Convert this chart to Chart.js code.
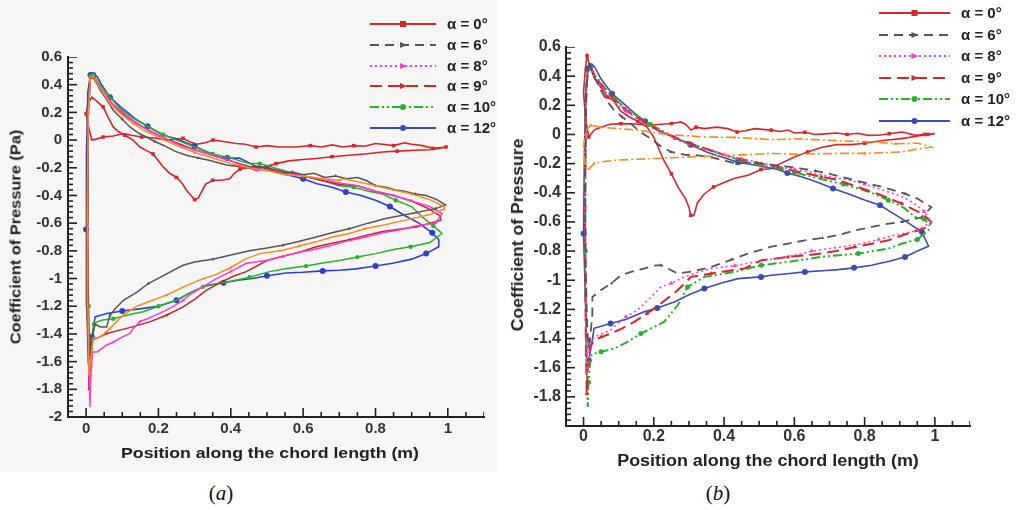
<!DOCTYPE html>
<html>
<head>
<meta charset="utf-8">
<script src="https://cdn.jsdelivr.net/npm/chart.js@4.4.1/dist/chart.umd.min.js"></script>
<style>
body{margin:0;width:1019px;height:510px;position:relative;overflow:hidden;background:#fff;font-family:"Liberation Sans",Arial,sans-serif}
.abs{position:absolute}
.ttl{position:absolute;font-weight:bold;color:#222;white-space:nowrap}
.cap{position:absolute;font-family:"Liberation Serif","Times New Roman",serif;font-size:21px;color:#111;transform:translate(-50%,-50%)}
.leg{position:absolute;font-weight:bold;color:#222;white-space:nowrap}
</style>
</head>
<body>
<div class="abs" style="left:0;top:0;width:497px;height:472px;background:#f6f6f6"></div>
<canvas id="chartA" class="abs" width="500" height="470" style="left:0;top:0"></canvas>
<canvas id="chartB" class="abs" width="519" height="470" style="left:500px;top:0"></canvas>
<div id="legA"></div>
<div id="legB"></div>
<div class="ttl" style="left:15px;top:237px;font-size:15px;transform:translate(-50%,-50%) rotate(-90deg) scaleX(1.09)">Coefficient of Pressure (Pa)</div>
<div class="ttl" style="left:518px;top:235px;font-size:16px;transform:translate(-50%,-50%) rotate(-90deg) scaleX(1.1)">Coefficient of Pressure</div>
<div class="ttl" style="left:270px;top:452px;font-size:15px;transform:translate(-50%,-50%) scaleX(1.18)">Position along the chord length (m)</div>
<div class="ttl" style="left:768px;top:461px;font-size:16px;transform:translate(-50%,-50%) scaleX(1.12)">Position along the chord length (m)</div>
<div class="cap" style="left:221px;top:493px">(<i>a</i>)</div>
<div class="cap" style="left:718px;top:493px">(<i>b</i>)</div>
<script>
// tick labels
var xTicks = [0, 0.2, 0.4, 0.6, 0.8, 1];
var yTicks = [-2, -1.8, -1.6, -1.4, -1.2, -1, -0.8, -0.6, -0.4, -0.2, 0, 0.2, 0.4, 0.6];
var legendLabels = ['α = 0°', 'α = 6°', 'α = 8°', 'α = 9°', 'α = 10°', 'α = 12°'];

// panel (a): [x, Cp] along each loop
var a_alpha0 = [[0.995,-0.05],[0.96,-0.06],[0.93,-0.04],[0.9,-0.03],[0.88,-0.02],[0.85,-0.04],[0.82,-0.03],[0.8,-0.025],[0.77,-0.045],[0.74,-0.04],[0.71,-0.05],[0.68,-0.035],[0.65,-0.05],[0.62,-0.04],[0.58,-0.05],[0.534,-0.05],[0.5,-0.04],[0.47,-0.05],[0.44,-0.03],[0.415,-0.025],[0.38,-0.01],[0.351,0.0],[0.33,-0.02],[0.305,-0.03],[0.285,-0.01],[0.268,0.013],[0.245,0.005],[0.222,0.0],[0.19,0.015],[0.154,0.022],[0.125,0.035],[0.103,0.047],[0.075,0.03],[0.047,0.022],[0.025,0.005],[0.016,0.0],[0.008,0.08],[0.0,0.19],[0.006,0.27],[0.016,0.31],[0.03,0.28],[0.047,0.24],[0.06,0.17],[0.075,0.095],[0.09,0.06],[0.107,0.035],[0.13,0.0],[0.149,-0.05],[0.17,-0.08],[0.185,-0.1],[0.2,-0.15],[0.213,-0.194],[0.231,-0.24],[0.25,-0.27],[0.265,-0.31],[0.277,-0.36],[0.29,-0.4],[0.3,-0.43],[0.31,-0.42],[0.32,-0.37],[0.33,-0.32],[0.35,-0.29],[0.375,-0.29],[0.397,-0.28],[0.41,-0.24],[0.425,-0.21],[0.443,-0.2],[0.47,-0.21],[0.5,-0.19],[0.525,-0.17],[0.56,-0.15],[0.6,-0.14],[0.636,-0.133],[0.68,-0.12],[0.727,-0.11],[0.77,-0.1],[0.82,-0.086],[0.86,-0.08],[0.91,-0.074],[0.95,-0.07],[0.975,-0.06],[0.995,-0.05]];
var a_alpha6 = [[0.012,0.46],[0.02,0.46],[0.039,0.36],[0.06,0.28],[0.075,0.215],[0.1,0.15],[0.121,0.095],[0.145,0.05],[0.167,0.022],[0.19,-0.01],[0.213,-0.037],[0.245,-0.08],[0.277,-0.11],[0.31,-0.13],[0.34,-0.146],[0.388,-0.18],[0.42,-0.19],[0.45,-0.2],[0.48,-0.19],[0.51,-0.22],[0.54,-0.24],[0.57,-0.23],[0.6,-0.25],[0.63,-0.24],[0.66,-0.27],[0.69,-0.26],[0.72,-0.28],[0.75,-0.27],[0.773,-0.29],[0.8,-0.33],[0.83,-0.34],[0.856,-0.36],[0.88,-0.37],[0.91,-0.39],[0.94,-0.4],[0.97,-0.43],[0.994,-0.47],[0.966,-0.495],[0.9,-0.53],[0.828,-0.567],[0.78,-0.6],[0.727,-0.64],[0.68,-0.67],[0.636,-0.7],[0.59,-0.73],[0.544,-0.76],[0.5,-0.78],[0.452,-0.8],[0.4,-0.83],[0.35,-0.86],[0.3,-0.88],[0.268,-0.904],[0.22,-0.97],[0.172,-1.036],[0.14,-1.1],[0.103,-1.157],[0.08,-1.22],[0.066,-1.265],[0.057,-1.35],[0.04,-1.35],[0.025,-1.33],[0.015,-1.45],[0.009,-1.62],[0.006,-1.3],[0.004,-0.6],[0.005,0.2],[0.012,0.46]];
var a_extra = [[0.012,0.46],[0.02,0.46],[0.04,0.37],[0.07,0.25],[0.1,0.18],[0.13,0.12],[0.16,0.07],[0.2,0.02],[0.25,-0.04],[0.3,-0.09],[0.35,-0.13],[0.4,-0.17],[0.45,-0.2],[0.5,-0.22],[0.55,-0.25],[0.6,-0.26],[0.65,-0.28],[0.7,-0.29],[0.71,-0.28],[0.75,-0.3],[0.8,-0.33],[0.85,-0.36],[0.9,-0.39],[0.95,-0.43],[0.99,-0.48],[0.99,-0.5],[0.948,-0.54],[0.88,-0.58],[0.82,-0.615],[0.77,-0.64],[0.727,-0.675],[0.68,-0.7],[0.636,-0.735],[0.59,-0.765],[0.544,-0.795],[0.48,-0.82],[0.44,-0.86],[0.4,-0.92],[0.36,-0.97],[0.314,-1.01],[0.27,-1.06],[0.222,-1.12],[0.18,-1.16],[0.14,-1.2],[0.1,-1.27],[0.066,-1.36],[0.045,-1.41],[0.03,-1.43],[0.02,-1.43],[0.012,-1.6],[0.008,-1.7],[0.005,-1.2],[0.004,-0.4],[0.006,0.2],[0.012,0.46]];
var a_alpha8 = [[0.012,0.46],[0.02,0.46],[0.04,0.38],[0.07,0.27],[0.1,0.2],[0.14,0.12],[0.18,0.06],[0.22,0.01],[0.26,-0.04],[0.3,-0.07],[0.35,-0.11],[0.4,-0.15],[0.45,-0.2],[0.47,-0.22],[0.5,-0.21],[0.55,-0.24],[0.6,-0.26],[0.65,-0.28],[0.7,-0.31],[0.75,-0.33],[0.8,-0.37],[0.85,-0.4],[0.9,-0.44],[0.95,-0.48],[0.984,-0.53],[0.966,-0.6],[0.91,-0.62],[0.865,-0.65],[0.82,-0.67],[0.773,-0.7],[0.72,-0.73],[0.68,-0.76],[0.63,-0.79],[0.59,-0.81],[0.54,-0.84],[0.498,-0.87],[0.443,-0.89],[0.4,-0.95],[0.36,-1.0],[0.323,-1.06],[0.29,-1.11],[0.268,-1.157],[0.235,-1.21],[0.204,-1.25],[0.17,-1.29],[0.149,-1.31],[0.13,-1.36],[0.121,-1.397],[0.094,-1.43],[0.075,-1.46],[0.057,-1.48],[0.03,-1.53],[0.018,-1.53],[0.013,-1.7],[0.011,-1.93],[0.007,-1.4],[0.004,-0.6],[0.006,0.2],[0.012,0.46]];
var a_alpha9 = [[0.012,0.45],[0.02,0.45],[0.04,0.37],[0.07,0.27],[0.1,0.19],[0.14,0.12],[0.18,0.06],[0.22,0.01],[0.26,-0.03],[0.3,-0.07],[0.35,-0.11],[0.4,-0.15],[0.45,-0.19],[0.5,-0.2],[0.55,-0.23],[0.6,-0.26],[0.65,-0.29],[0.7,-0.32],[0.75,-0.33],[0.8,-0.37],[0.85,-0.4],[0.9,-0.44],[0.95,-0.5],[0.98,-0.55],[0.98,-0.58],[0.911,-0.627],[0.86,-0.645],[0.82,-0.66],[0.77,-0.69],[0.727,-0.72],[0.68,-0.745],[0.636,-0.77],[0.59,-0.81],[0.544,-0.84],[0.5,-0.87],[0.443,-0.95],[0.41,-0.98],[0.37,-1.03],[0.332,-1.085],[0.3,-1.15],[0.268,-1.205],[0.222,-1.265],[0.176,-1.313],[0.14,-1.34],[0.112,-1.36],[0.057,-1.397],[0.03,-1.43],[0.018,-1.44],[0.012,-1.6],[0.008,-1.8],[0.005,-1.3],[0.003,-0.6],[0.006,0.2],[0.012,0.45]];
var a_alpha10 = [[0.012,0.46],[0.02,0.47],[0.04,0.39],[0.066,0.31],[0.1,0.21],[0.135,0.15],[0.17,0.1],[0.213,0.04],[0.25,0.0],[0.3,-0.05],[0.35,-0.1],[0.4,-0.13],[0.45,-0.17],[0.48,-0.17],[0.52,-0.2],[0.56,-0.23],[0.6,-0.26],[0.65,-0.29],[0.7,-0.33],[0.74,-0.34],[0.78,-0.37],[0.82,-0.39],[0.856,-0.435],[0.9,-0.48],[0.929,-0.555],[0.96,-0.62],[0.984,-0.675],[0.95,-0.74],[0.897,-0.77],[0.85,-0.79],[0.8,-0.82],[0.75,-0.845],[0.704,-0.868],[0.65,-0.89],[0.608,-0.91],[0.55,-0.93],[0.507,-0.95],[0.452,-0.99],[0.4,-1.02],[0.36,-1.04],[0.323,-1.06],[0.29,-1.1],[0.25,-1.157],[0.2,-1.2],[0.158,-1.24],[0.12,-1.26],[0.075,-1.29],[0.045,-1.3],[0.03,-1.313],[0.022,-1.33],[0.016,-1.45],[0.011,-1.674],[0.007,-1.2],[0.004,-0.7],[0.006,0.2],[0.012,0.46]];
var a_alpha12 = [[0.012,0.47],[0.02,0.47],[0.03,0.46],[0.045,0.39],[0.066,0.31],[0.1,0.23],[0.135,0.155],[0.17,0.1],[0.213,0.035],[0.25,0.01],[0.3,-0.045],[0.33,-0.08],[0.364,-0.122],[0.39,-0.13],[0.424,-0.13],[0.47,-0.19],[0.5,-0.2],[0.534,-0.24],[0.57,-0.26],[0.6,-0.28],[0.636,-0.314],[0.68,-0.34],[0.718,-0.375],[0.76,-0.4],[0.8,-0.435],[0.84,-0.48],[0.879,-0.543],[0.92,-0.6],[0.957,-0.67],[0.975,-0.72],[0.975,-0.77],[0.94,-0.82],[0.9,-0.86],[0.847,-0.89],[0.8,-0.91],[0.746,-0.93],[0.7,-0.94],[0.654,-0.945],[0.6,-0.955],[0.553,-0.96],[0.5,-0.98],[0.461,-1.0],[0.424,-1.01],[0.38,-1.03],[0.332,-1.05],[0.29,-1.1],[0.25,-1.157],[0.2,-1.2],[0.153,-1.217],[0.1,-1.235],[0.057,-1.253],[0.025,-1.277],[0.016,-1.42],[0.006,-1.566],[0.002,-1.2],[0.0,-0.645],[0.002,-0.1],[0.005,0.35],[0.012,0.47]];

// panel (b)
var b_alpha0 = [[1.0,0.006],[0.97,0.0],[0.944,-0.006],[0.92,0.01],[0.906,0.017],[0.87,0.005],[0.84,-0.005],[0.81,-0.006],[0.78,0.008],[0.75,0.0],[0.72,0.01],[0.696,0.006],[0.66,0.0],[0.63,0.015],[0.6,0.01],[0.582,0.03],[0.56,0.02],[0.534,0.03],[0.51,0.035],[0.487,0.04],[0.46,0.025],[0.437,0.017],[0.41,0.04],[0.38,0.05],[0.344,0.04],[0.32,0.05],[0.306,0.03],[0.29,0.07],[0.277,0.086],[0.25,0.075],[0.22,0.07],[0.18,0.063],[0.15,0.072],[0.106,0.074],[0.075,0.07],[0.049,0.05],[0.03,0.03],[0.015,-0.017],[0.006,0.1],[0.0,0.29],[0.005,0.45],[0.01,0.54],[0.018,0.47],[0.03,0.39],[0.05,0.32],[0.068,0.257],[0.086,0.23],[0.106,0.16],[0.13,0.12],[0.155,0.09],[0.181,0.05],[0.2,-0.02],[0.229,-0.18],[0.25,-0.27],[0.271,-0.37],[0.29,-0.44],[0.3,-0.5],[0.305,-0.555],[0.314,-0.555],[0.324,-0.47],[0.343,-0.41],[0.37,-0.36],[0.4,-0.33],[0.43,-0.3],[0.468,-0.28],[0.505,-0.24],[0.534,-0.235],[0.56,-0.2],[0.6,-0.154],[0.638,-0.12],[0.676,-0.09],[0.72,-0.07],[0.762,-0.07],[0.8,-0.06],[0.857,-0.04],[0.9,-0.03],[0.952,-0.01],[0.98,0.0],[1.0,0.006]];
var b_extra = [[0.02,0.063],[0.05,0.05],[0.095,0.04],[0.153,0.03],[0.238,0.0],[0.344,-0.017],[0.43,-0.02],[0.534,-0.035],[0.62,-0.03],[0.696,-0.04],[0.81,-0.05],[0.887,-0.063],[0.952,-0.06],[0.99,-0.086],[0.95,-0.1],[0.905,-0.12],[0.8,-0.13],[0.714,-0.13],[0.6,-0.135],[0.534,-0.13],[0.45,-0.14],[0.344,-0.15],[0.25,-0.16],[0.153,-0.17],[0.1,-0.175],[0.058,-0.185],[0.03,-0.2],[0.01,-0.25],[0.004,-0.2],[0.0,-0.086],[0.005,0.02],[0.02,0.063]];
var b_alpha6 = [[0.012,0.45],[0.018,0.47],[0.03,0.4],[0.049,0.303],[0.07,0.22],[0.087,0.166],[0.11,0.12],[0.134,0.074],[0.16,0.02],[0.191,-0.03],[0.22,-0.08],[0.249,-0.12],[0.29,-0.14],[0.325,-0.143],[0.37,-0.16],[0.4,-0.18],[0.437,-0.2],[0.48,-0.19],[0.544,-0.21],[0.58,-0.22],[0.62,-0.234],[0.66,-0.25],[0.7,-0.27],[0.75,-0.3],[0.791,-0.326],[0.85,-0.36],[0.915,-0.406],[0.95,-0.44],[0.982,-0.486],[0.99,-0.5],[0.96,-0.57],[0.906,-0.6],[0.86,-0.615],[0.82,-0.634],[0.77,-0.66],[0.725,-0.69],[0.68,-0.71],[0.63,-0.726],[0.58,-0.75],[0.534,-0.77],[0.468,-0.817],[0.42,-0.86],[0.363,-0.909],[0.31,-0.94],[0.268,-0.954],[0.24,-0.92],[0.22,-0.897],[0.2,-0.9],[0.172,-0.92],[0.14,-0.94],[0.106,-0.966],[0.08,-1.02],[0.049,-1.069],[0.025,-1.115],[0.025,-1.23],[0.02,-1.366],[0.014,-1.46],[0.01,-1.3],[0.006,-0.9],[0.004,-0.3],[0.008,0.3],[0.012,0.45]];
var b_alpha8 = [[0.012,0.44],[0.02,0.45],[0.035,0.38],[0.06,0.3],[0.09,0.22],[0.12,0.16],[0.15,0.11],[0.19,0.05],[0.22,0.02],[0.26,-0.03],[0.3,-0.07],[0.33,-0.1],[0.36,-0.1],[0.4,-0.14],[0.45,-0.17],[0.5,-0.19],[0.55,-0.22],[0.6,-0.24],[0.65,-0.26],[0.7,-0.29],[0.75,-0.31],[0.8,-0.34],[0.85,-0.38],[0.9,-0.42],[0.94,-0.47],[0.97,-0.53],[0.99,-0.6],[0.95,-0.66],[0.887,-0.69],[0.84,-0.72],[0.791,-0.749],[0.74,-0.77],[0.696,-0.783],[0.65,-0.8],[0.6,-0.829],[0.55,-0.85],[0.5,-0.87],[0.43,-0.9],[0.363,-0.92],[0.32,-0.95],[0.287,-0.977],[0.25,-1.02],[0.22,-1.046],[0.19,-1.12],[0.153,-1.206],[0.12,-1.25],[0.077,-1.34],[0.05,-1.37],[0.03,-1.39],[0.02,-1.42],[0.015,-1.55],[0.01,-1.65],[0.007,-1.2],[0.004,-0.5],[0.006,0.2],[0.012,0.44]];
var b_alpha9 = [[0.012,0.45],[0.02,0.46],[0.035,0.39],[0.06,0.31],[0.09,0.23],[0.12,0.17],[0.15,0.12],[0.19,0.06],[0.22,0.02],[0.26,-0.02],[0.3,-0.06],[0.35,-0.1],[0.4,-0.14],[0.45,-0.17],[0.5,-0.2],[0.55,-0.22],[0.6,-0.25],[0.677,-0.29],[0.72,-0.31],[0.78,-0.36],[0.84,-0.41],[0.906,-0.474],[0.963,-0.543],[0.99,-0.6],[0.985,-0.63],[0.953,-0.657],[0.91,-0.69],[0.868,-0.726],[0.82,-0.75],[0.772,-0.772],[0.72,-0.8],[0.677,-0.817],[0.63,-0.83],[0.582,-0.84],[0.506,-0.863],[0.458,-0.92],[0.4,-0.94],[0.363,-0.954],[0.306,-0.977],[0.268,-1.069],[0.22,-1.16],[0.18,-1.23],[0.144,-1.286],[0.11,-1.33],[0.077,-1.366],[0.05,-1.39],[0.03,-1.41],[0.018,-1.46],[0.012,-1.6],[0.009,-1.78],[0.006,-1.3],[0.004,-0.6],[0.006,0.2],[0.012,0.45]];
var b_alpha10 = [[0.012,0.45],[0.02,0.46],[0.035,0.4],[0.06,0.32],[0.09,0.24],[0.12,0.18],[0.15,0.13],[0.19,0.07],[0.22,0.03],[0.26,-0.02],[0.3,-0.06],[0.35,-0.1],[0.4,-0.14],[0.45,-0.18],[0.5,-0.21],[0.55,-0.23],[0.6,-0.26],[0.65,-0.29],[0.7,-0.32],[0.74,-0.34],[0.782,-0.371],[0.82,-0.4],[0.868,-0.451],[0.91,-0.5],[0.944,-0.566],[0.97,-0.58],[0.985,-0.62],[0.982,-0.657],[0.95,-0.72],[0.905,-0.75],[0.868,-0.783],[0.782,-0.817],[0.677,-0.84],[0.582,-0.874],[0.506,-0.897],[0.43,-0.943],[0.344,-0.977],[0.296,-1.046],[0.268,-1.172],[0.229,-1.286],[0.163,-1.366],[0.12,-1.43],[0.087,-1.469],[0.05,-1.49],[0.03,-1.503],[0.02,-1.52],[0.014,-1.7],[0.012,-1.87],[0.008,-1.5],[0.005,-0.8],[0.006,0.2],[0.012,0.45]];
var b_alpha12 = [[0.012,0.45],[0.02,0.47],[0.03,0.47],[0.05,0.38],[0.081,0.28],[0.11,0.22],[0.143,0.15],[0.175,0.09],[0.21,0.03],[0.25,-0.01],[0.305,-0.07],[0.35,-0.12],[0.4,-0.16],[0.44,-0.19],[0.486,-0.21],[0.553,-0.24],[0.58,-0.265],[0.62,-0.29],[0.668,-0.33],[0.71,-0.37],[0.753,-0.406],[0.8,-0.45],[0.844,-0.486],[0.88,-0.54],[0.92,-0.6],[0.963,-0.669],[0.982,-0.767],[0.95,-0.8],[0.915,-0.84],[0.87,-0.87],[0.82,-0.897],[0.77,-0.915],[0.725,-0.927],[0.68,-0.935],[0.63,-0.943],[0.58,-0.955],[0.534,-0.966],[0.505,-0.977],[0.44,-0.989],[0.39,-1.02],[0.344,-1.057],[0.3,-1.1],[0.258,-1.149],[0.21,-1.19],[0.172,-1.217],[0.12,-1.27],[0.077,-1.297],[0.03,-1.33],[0.022,-1.45],[0.015,-1.55],[0.01,-1.63],[0.006,-1.2],[0.0,-0.68],[0.002,-0.2],[0.006,0.3],[0.012,0.45]];

var RED = '#d8262b', GRAY = '#555', PINK = '#ff3ad6', GREEN = '#27b327', BLUE = '#2f40d0', NAVY = '#3d4cb4', ORANGE = '#ff8a1c';

// legend line styles (same in both panels)
var legendStyles = [
  {color: RED, dash: [], shape: 'rect'},
  {color: GRAY, dash: [9, 6], shape: 'triangle'},
  {color: PINK, dash: [2, 3], shape: 'triangle'},
  {color: RED, dash: [12, 6], shape: 'triangle'},
  {color: GREEN, dash: [9, 3, 2, 3, 2, 3], shape: 'circle'},
  {color: NAVY, dash: [], shape: 'circle'}
];

function ds(label, pts, color, dash, shape, width, every, r) {
  return {
    label: label,
    data: pts.map(function (p) { return {x: p[0], y: p[1]}; }),
    showLine: true,
    borderColor: color,
    backgroundColor: color,
    borderWidth: width,
    borderDash: dash,
    tension: 0,
    pointStyle: shape,
    pointBorderWidth: 0,
    pointRadius: function (c) { return c.dataIndex % every === 1 ? r : 0; }
  };
}

// axis tick marks drawn by the library as 'line' points sitting on the axes;
// clip:0 cuts away the half that falls outside the plot, so they point inward
function tickSet(onX) {
  var pts = [], rad = [], k;
  if (onX) {
    for (k = -1; k <= 22; k++) { pts.push({x: k * 0.05, y: -2}); rad.push(k % 4 === 0 ? 9 : 5); }
  } else {
    for (k = -50; k <= 15; k++) { pts.push({x: -0.05, y: k * 0.04}); rad.push(k % 5 === 0 ? 9 : 5); }
  }
  return {
    label: 'ticks', data: pts, showLine: false, clip: 0,
    pointStyle: 'line', rotation: onX ? 90 : 0,
    pointRadius: rad, pointHoverRadius: rad,
    pointBorderColor: '#222', pointBorderWidth: 1.6,
    borderColor: '#222', backgroundColor: '#222'
  };
}

function fmt(v) { return String(Math.round(v * 10) / 10); }

function makeChart(id, datasets, opt) {
  var font = {family: '"Liberation Sans", Arial, sans-serif', size: opt.fs, weight: 'bold'};
  return new Chart(document.getElementById(id), {
    type: 'scatter',
    data: {datasets: datasets.concat([tickSet(true), tickSet(false)])},
    options: {
      responsive: false,
      animation: false,
      layout: {padding: opt.pad},
      plugins: {legend: {display: false}, tooltip: {enabled: false}},
      scales: {
        x: {
          min: -0.05, max: 1.1,
          grid: {display: false, drawTicks: false},
          border: {display: true, color: '#222', width: 2},
          afterBuildTicks: function (s) { s.ticks = xTicks.map(function (v) { return {value: v}; }); },
          afterFit: function (s) { s.height = 30; },
          ticks: {font: font, color: '#333', padding: opt.xpad, maxRotation: 0, callback: fmt}
        },
        y: {
          min: -2, max: 0.6,
          grid: {display: false, drawTicks: false},
          border: {display: true, color: '#222', width: 2},
          afterBuildTicks: function (s) { s.ticks = yTicks.map(function (v) { return {value: v}; }); },
          afterFit: function (s) { s.width = opt.yw; },
          ticks: {font: font, color: '#333', padding: opt.ypad, callback: function (v) { return (opt.hideMin && v === -2) ? '' : fmt(v); }}
        }
      }
    }
  });
}

makeChart('chartA', [
  ds('extra', a_extra, ORANGE, [], 'triangle', 1.5, 4, 2),
  ds(legendLabels[1], a_alpha6, GRAY, [], 'triangle', 1.5, 4, 2),
  ds(legendLabels[2], a_alpha8, PINK, [], 'triangle', 1.5, 4, 2),
  ds(legendLabels[3], a_alpha9, '#c8232a', [], 'triangle', 1.5, 4, 2),
  ds(legendLabels[4], a_alpha10, GREEN, [], 'circle', 1.5, 3, 2.2),
  ds(legendLabels[5], a_alpha12, BLUE, [], 'circle', 1.6, 3, 3),
  ds(legendLabels[0], a_alpha0, RED, [], 'rect', 1.6, 4, 2.5)
], {pad: {left: 0, right: 16, top: 57, bottom: 23}, yw: 68, fs: 15, xpad: 3, ypad: 6, hideMin: false});

makeChart('chartB', [
  ds('extra', b_extra, ORANGE, [9, 3, 2, 3], 'triangle', 1.6, 5, 2),
  ds(legendLabels[1], b_alpha6, GRAY, [9, 6], 'triangle', 1.8, 5, 2),
  ds(legendLabels[2], b_alpha8, PINK, [2, 3], 'triangle', 1.6, 4, 2.5),
  ds(legendLabels[3], b_alpha9, RED, [12, 6], 'triangle', 2, 4, 2.5),
  ds(legendLabels[4], b_alpha10, GREEN, [9, 3, 2, 3, 2, 3], 'circle', 2, 3, 2.5),
  ds(legendLabels[5], b_alpha12, NAVY, [], 'circle', 1.6, 3, 3),
  ds(legendLabels[0], b_alpha0, RED, [], 'rect', 1.6, 4, 2.5)
], {pad: {left: 0, right: 49, top: 47, bottom: 14}, yw: 66, fs: 16, xpad: 1, ypad: 5, hideMin: true});

// legends as html rows with small svg line samples
function buildLegend(id, x0, x1, tx, y0, dy, fs) {
  var box = document.getElementById(id);
  var w = x1 - x0, mid = w / 2;
  legendLabels.forEach(function (t, i) {
    var st = legendStyles[i];
    var cy = y0 + i * dy;
    var mk = st.shape === 'circle' ? '<circle cx="' + mid + '" cy="5" r="3" fill="' + st.color + '"/>'
      : st.shape === 'rect' ? '<rect x="' + (mid - 3) + '" y="2" width="6" height="6" fill="' + st.color + '"/>'
      : '<polygon points="' + (mid - 3) + ',2 ' + (mid + 4) + ',5 ' + (mid - 3) + ',8" fill="' + st.color + '"/>';
    var svg = '<svg class="abs" style="left:' + x0 + 'px;top:' + (cy - 5) + 'px" width="' + w + '" height="10">' +
      '<line x1="0" y1="5" x2="' + w + '" y2="5" stroke="' + st.color + '" stroke-width="2" stroke-dasharray="' + st.dash.join(' ') + '"/>' + mk + '</svg>';
    box.insertAdjacentHTML('beforeend', svg +
      '<div class="leg" style="left:' + tx + 'px;top:' + (cy - fs * 0.6) + 'px;font-size:' + fs + 'px">' + t + '</div>');
  });
}
buildLegend('legA', 370, 436, 447, 24, 20.8, 15);
buildLegend('legB', 879, 950, 961, 13, 21.6, 15);
</script>
</body>
</html>
